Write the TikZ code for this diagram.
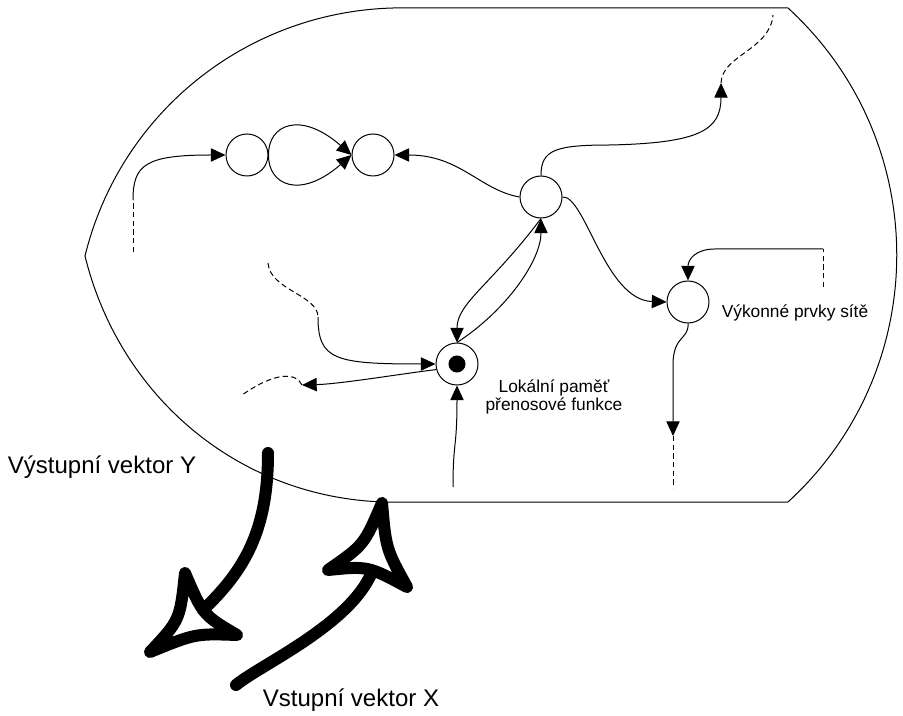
\documentclass[tikz,border=0pt]{standalone}
\usepackage{fontspec}
\setmainfont{Liberation Sans}
\usetikzlibrary{arrows.meta}

\begin{document}
\begin{tikzpicture}[
  x=0.75pt, y=-0.75pt,
  >={Triangle[length=11pt,width=10pt]},
  line width=0.75pt,
  unit/.style={circle, draw, minimum size=31.5pt, inner sep=0pt},
  mem/.style={unit, path picture={\fill (path picture bounding box.center) circle (6.4pt);}},
  dsh/.style={dash pattern=on 4pt off 2.5pt},
  lbl/.style={font=\fontsize{13pt}{13.5pt}\selectfont, align=center, inner sep=0pt},
  biglbl/.style={font=\fontsize{18pt}{20pt}\selectfont, inner sep=0pt},
  vec/.style={line width=9pt, line cap=round, line join=round}
]
\useasboundingbox (0,0) rectangle (903,716);

% -----------------------
% Outline of the network
% -----------------------
\draw (85,256) .. controls (120,113) and (246,12) .. (393,8) -- (788,8)
  .. controls (933,141) and (933,369) .. (788,502) -- (385,502)
  .. controls (240,498) and (120,398) .. (85,256) -- cycle;

% -----------------------
% Units
% -----------------------
\node[unit] (uA) at (247,155) {};
\node[unit] (uB) at (373,155) {};
\node[unit] (uC) at (541,197) {};
\node[mem]  (mem) at (457,364) {};
\node[unit] (act) at (688,302) {};

\node[lbl] (memlbl) at (554,397) {Lokální paměť\\přenosové funkce};
\node[lbl] (actlbl) at (795,313) {Výkonné prvky sítě};

% free ends
\coordinate (a0) at (133,252);
\coordinate (a1) at (133,200);
\coordinate (c1) at (721,83);
\coordinate (c2) at (773,15);
\coordinate (e0) at (823,287);
\coordinate (e1) at (823,249);
\coordinate (e2) at (673,436);
\coordinate (e3) at (673,488);
\coordinate (d0) at (268,263);
\coordinate (d1) at (318,317);
\coordinate (d2) at (302,385);
\coordinate (d3) at (242,395);
\coordinate (d4) at (453,487);

% -----------------------
% Connections
% -----------------------
\draw[dsh] (a0) -- (a1);
\draw[->] (a1) .. controls (133,165) and (145,155) .. (uA.west);

\draw[->] (uA.east) .. controls (268,125) and (300,110) .. (uB.west);
\draw[->] (uA.east) .. controls (268,185) and (300,200) .. (uB.west);

\draw[->] (uC.west) .. controls (480,190) and (460,155) .. (uB.east);

\draw[->] (uC.north) .. controls (541,150) and (555,145) .. (610,145)
  .. controls (700,143) and (721,130) .. (c1);
\draw[dsh] (c1) .. controls (722,55) and (770,50) .. (c2);

\draw[->] (uC.south) .. controls (491,285) and (457,303) .. (mem.north);
\draw[->] (mem.north) .. controls (507,310) and (541,260) .. (uC.south);

\draw[->] (uC.east) .. controls (585,195) and (605,300) .. (act.west);

\draw[dsh] (e0) -- (e1);
\draw[->] (e1) -- (715,249) .. controls (695,249) and (688,260) .. (act.north);
\draw[->] (act.south) .. controls (689,340) and (673,335) .. (673,365) -- (e2);
\draw[dsh] (e2) -- (e3);

\draw[dsh] (d0) .. controls (270,290) and (318,295) .. (d1);
\draw[->] (d1) .. controls (318,360) and (335,364) .. (mem.west);
\draw[->] (mem.195) .. controls (400,374) and (340,384) .. (d2);
\draw[dsh] (d2) .. controls (296,372) and (275,372) .. (d3);
\draw[->] (d4) .. controls (453,440) and (457,450) .. (mem.south);

% -----------------------
% Output / input vectors
% -----------------------
\node[biglbl] (Ylbl) at (102,467) {Výstupní vektor Y};
\node[biglbl] (Xlbl) at (351,700) {Vstupní vektor X};

\draw[vec] (268,453) .. controls (268,530) and (245,570) .. (203,610);
\draw[vec] (185,573) .. controls (180,620) .. (150,652)
  .. controls (195.5,633.5) .. (237,635) .. controls (203,615) .. (185,573) -- cycle;

\draw[vec] (236,685) .. controls (260,665) and (350,625) .. (372,572);
\draw[vec] (382,503) .. controls (364,545) .. (328,570)
  .. controls (368,566) .. (407,587) .. controls (386,549) .. (382,503) -- cycle;

\end{tikzpicture}
\end{document}
